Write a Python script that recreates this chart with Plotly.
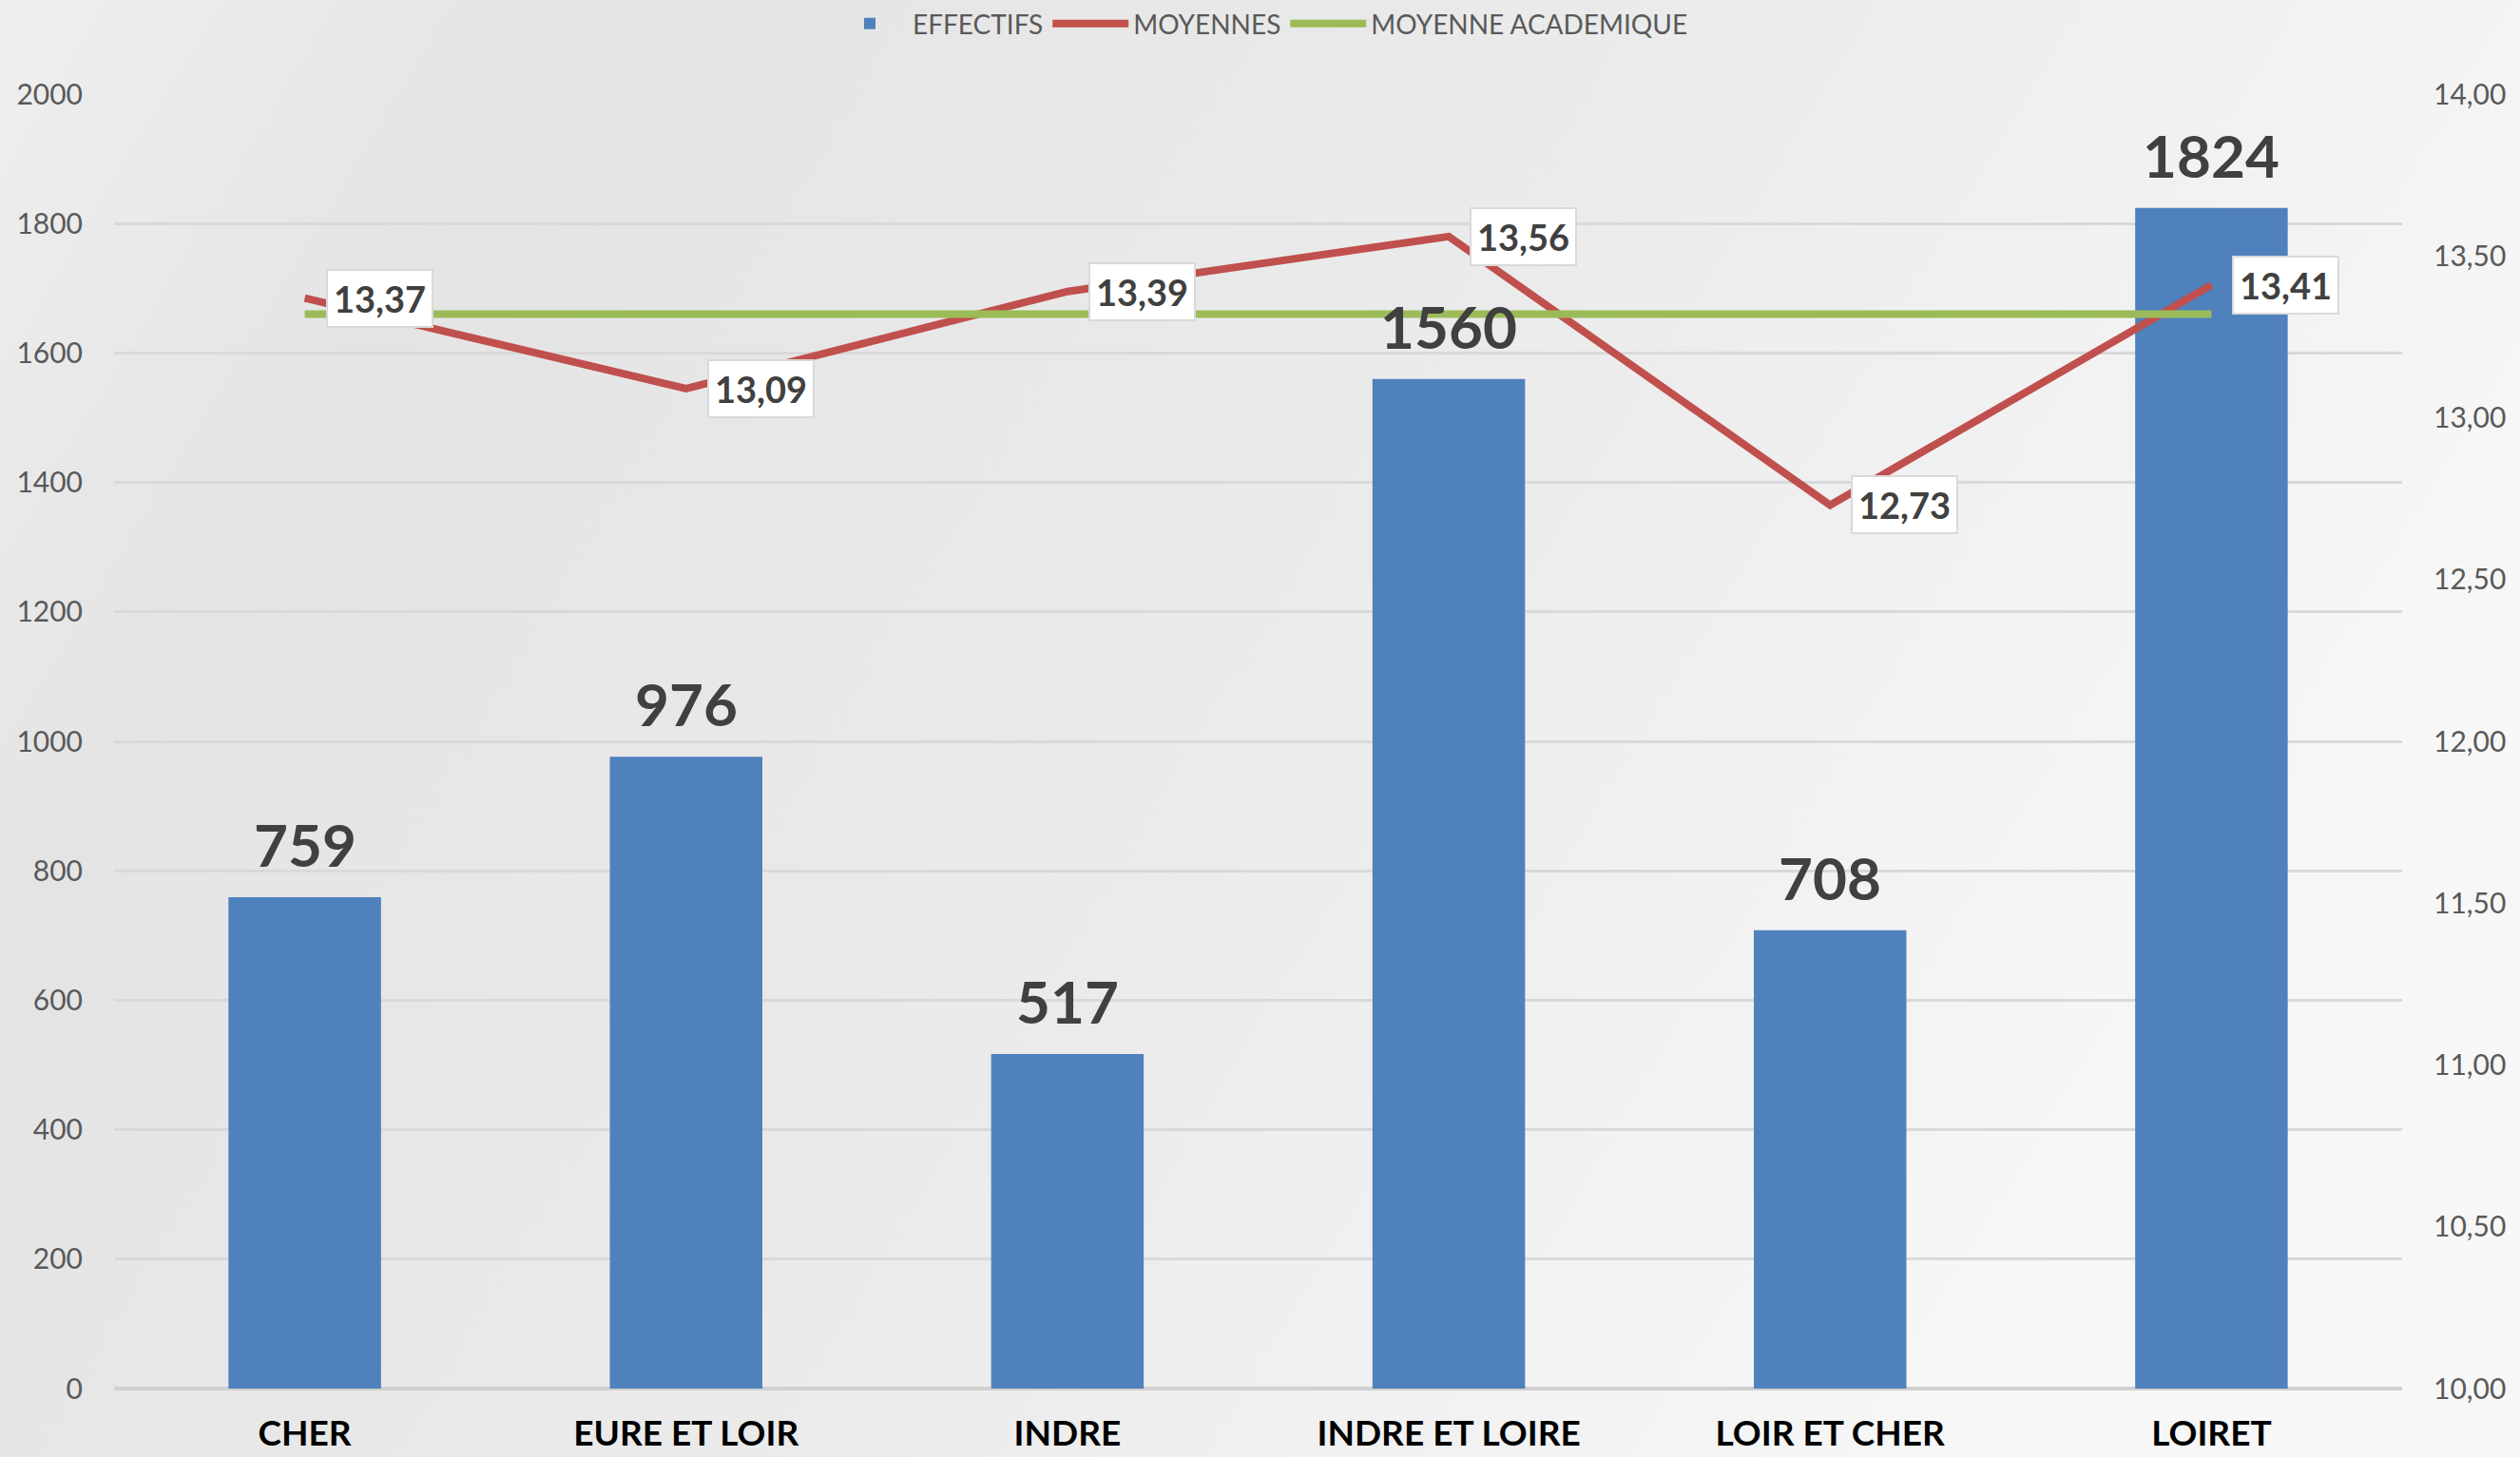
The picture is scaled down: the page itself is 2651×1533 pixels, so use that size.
import base64
import plotly.graph_objects as go

categories = ["CHER", "EURE ET LOIR", "INDRE", "INDRE ET LOIRE", "LOIR ET CHER", "LOIRET"]
effectifs = [759, 976, 517, 1560, 708, 1824]
moyennes = [13.37, 13.09, 13.39, 13.56, 12.73, 13.41]
moyenne_academique = [13.32] * 6
left_ticks = [0, 200, 400, 600, 800, 1000, 1200, 1400, 1600, 1800, 2000]
right_ticks = [10.0, 10.5, 11.0, 11.5, 12.0, 12.5, 13.0, 13.5, 14.0]

FONT = "Lato, 'Open Sans', sans-serif"
W, H = 2651, 1533
ML, MR, MT, MB = 120, 124, 99, 72
PW, PH = W - ML - MR, H - MT - MB

svg = (
    '<svg xmlns="http://www.w3.org/2000/svg" width="2651" height="1533" preserveAspectRatio="none">'
    '<defs><linearGradient id="g" x1="0" y1="0" x2="1" y2="0.35">'
    '<stop offset="0" stop-color="#efefef"/>'
    '<stop offset="0.2" stop-color="#e4e4e4"/>'
    '<stop offset="0.6" stop-color="#ebebeb"/>'
    '<stop offset="1" stop-color="#f7f7f7"/>'
    '</linearGradient></defs>'
    '<rect width="2651" height="1533" fill="url(#g)"/></svg>'
)
bg_src = "data:image/svg+xml;base64," + base64.b64encode(svg.encode()).decode()

fig = go.Figure()
fig.add_trace(go.Bar(
    x=categories, y=effectifs, name="EFFECTIFS",
    marker=dict(color="#4f81bd", line=dict(width=0)),
))
fig.add_trace(go.Scatter(
    x=categories, y=moyennes, name="MOYENNES", yaxis="y2", mode="lines",
    line=dict(color="#c0504d", width=8),
))
fig.add_trace(go.Scatter(
    x=categories, y=moyenne_academique, name="MOYENNE ACADEMIQUE", yaxis="y2", mode="lines",
    line=dict(color="#9bbb59", width=8),
))

for c, v in zip(categories, effectifs):
    fig.add_annotation(
        x=c, y=v, xref="x", yref="y", text=str(v),
        showarrow=False, xanchor="center", yanchor="middle", yshift=56,
        font=dict(family=FONT, size=62, color="#404040", weight="bold"),
    )

for c, v in zip(categories, moyennes):
    fig.add_annotation(
        x=c, y=v, xref="x", yref="y2", text=f"{v:.2f}".replace(".", ","),
        showarrow=False, xanchor="left", yanchor="middle", xshift=22,
        bgcolor="white", bordercolor="#d9d9d9", borderwidth=2, borderpad=6,
        font=dict(family=FONT, size=38, color="#404040", weight="bold"),
    )

fig.add_layout_image(dict(
    source=bg_src, xref="paper", yref="paper",
    x=-ML / PW, y=1 + MT / PH, sizex=W / PW, sizey=H / PH,
    xanchor="left", yanchor="top", sizing="stretch", layer="below",
))

fig.update_layout(
    width=W, height=H,
    margin=dict(l=ML, r=MR, t=MT, b=MB, autoexpand=False),
    paper_bgcolor="#ebebeb", plot_bgcolor="rgba(0,0,0,0)",
    bargap=0.6,
    showlegend=True,
    legend=dict(orientation="h", x=0.5, xanchor="center", xref="container",
                y=1.0, yanchor="top", yref="container",
                font=dict(family=FONT, size=28, color="#595959"),
                bgcolor="rgba(0,0,0,0)", itemwidth=80),
    xaxis=dict(tickfont=dict(family=FONT, size=37, color="#000000", weight="bold"),
               showgrid=False, showline=False, ticks="", ticklabelstandoff=22,
               automargin=False),
    yaxis=dict(range=[0, 2000], tickvals=left_ticks, ticktext=[str(t) for t in left_ticks],
               tickfont=dict(family=FONT, size=30, color="#595959"),
               showgrid=True, gridcolor="#d9d9d9", gridwidth=3,
               zeroline=True, zerolinecolor="#d0d0d0", zerolinewidth=4,
               ticklabelstandoff=32, automargin=False),
    yaxis2=dict(range=[10, 14], overlaying="y", side="right",
                tickvals=right_ticks, ticktext=[f"{t:.2f}".replace(".", ",") for t in right_ticks],
                tickfont=dict(family=FONT, size=30, color="#595959"),
                showgrid=False, zeroline=False, ticklabelstandoff=32, automargin=False),
)

fig.write_html("out.html", config={"displayModeBar": False},
               post_script="document.body.style.margin='0';document.body.style.overflow='hidden';")
